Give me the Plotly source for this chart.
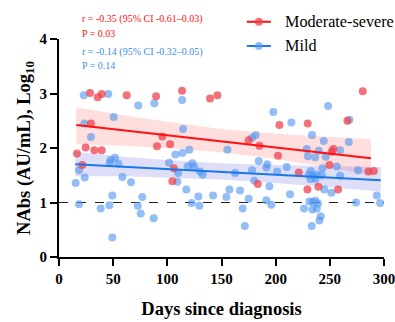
import plotly.graph_objects as go

# ---- data ----
mod_days = [28.6, 35.7, 39.4, 62.5, 89.6, 29.5, 24.6, 32.6, 39.4, 16.6, 21.5, 90.5,
            113.6, 139.4, 146.2, 95.4, 102.5, 106.0, 104.6, 175.1, 185.0, 183.5,
            280.4, 203.4, 229.6, 266.2, 202.2, 253.3, 251.8, 249.6, 221.3, 239.4,
            257.6, 229.3, 285.6, 290.6]
mod_vals = [3.01, 2.93, 2.99, 2.97, 2.95, 2.45, 2.01, 1.96, 1.96, 1.90, 1.69, 2.03,
            3.05, 2.91, 2.97, 2.21, 2.07, 1.63, 1.39, 2.14, 2.04, 1.34,
            3.04, 2.42, 2.45, 2.50, 1.86, 1.98, 1.93, 1.69, 1.55, 1.29,
            1.24, 1.24, 1.57, 1.58]

mild_days = [22.8, 45.5, 73.2, 88.0, 50.5, 23.4, 29.5, 47.7, 51.7, 54.8, 46.8, 18.5,
             23.7, 15.4, 58.5, 66.5, 49.2, 76.9, 18.5, 46.5, 38.5, 72.7, 75.4, 87.4, 49.2,
             113.6, 197.9, 114.5, 155.4, 178.2, 181.6, 107.4, 113.9, 120.3, 101.6, 118.8,
             123.1, 124.9, 109.9, 130.2, 132.7, 162.5, 178.2, 184.4, 192.3, 191.4, 180.3,
             109.2, 117.5, 194.2, 157.3, 167.1, 142.2, 128.6, 154.5, 175.1, 122.5, 129.5,
             169.6, 191.4, 171.5,
             248.4, 214.5, 268.1, 233.6, 244.4, 267.5, 228.7, 239.8, 259.5, 229.6, 236.4,
             246.2, 256.4, 243.1, 232.4, 210.2, 201.3, 276.1, 230.6, 234.8, 237.9, 242.6,
             259.5, 232.0, 236.7, 244.9, 251.4, 213.3, 293.3, 196.0, 231.1, 234.2, 236.7,
             239.0, 226.2, 233.9, 238.0, 241.6, 240.4, 233.3, 274.2, 296.4]
mild_vals = [2.97, 2.99, 2.78, 2.82, 2.57, 2.45, 2.20, 1.78, 1.82, 1.71, 1.73, 1.59,
             1.46, 1.36, 1.47, 1.37, 1.13, 1.10, 0.97, 0.95, 0.89, 0.94, 0.80, 0.71, 0.36,
             2.88, 2.66, 2.35, 1.97, 2.19, 2.24, 1.88, 1.91, 1.97, 1.73, 1.66,
             1.72, 1.65, 1.54, 1.57, 1.51, 1.54, 1.59, 1.76, 1.70, 1.64, 1.40,
             1.38, 1.24, 1.30, 1.24, 1.22, 1.13, 1.11, 1.10, 1.07, 0.99, 0.94,
             0.89, 1.04, 0.57,
             2.77, 2.47, 2.52, 2.24, 2.13, 2.11, 1.98, 1.95, 1.96, 1.85, 1.83,
             1.84, 1.66, 1.63, 1.58, 1.65, 1.57, 1.59, 1.51, 1.49, 1.51, 1.50,
             1.49, 1.43, 1.43, 1.24, 1.18, 1.15, 1.13, 0.96, 1.02, 1.01, 1.03,
             0.98, 0.89, 0.87, 0.89, 0.75, 0.67, 0.57, 1.00, 0.99]

# regression fits and 95% CI bands
mod_fit_days = [16, 60, 100, 150, 200, 250, 288]
mod_fit = [2.42, 2.32, 2.23, 2.12, 2.01, 1.90, 1.81]
mod_upper = [2.75, 2.60, 2.48, 2.35, 2.26, 2.20, 2.16]
mod_lower = [2.07, 2.04, 2.00, 1.92, 1.80, 1.64, 1.50]

mild_fit_days = [15, 60, 100, 150, 200, 250, 297]
mild_fit = [1.70, 1.654, 1.61, 1.56, 1.51, 1.46, 1.41]
mild_upper = [1.93, 1.84, 1.78, 1.72, 1.69, 1.67, 1.65]
mild_lower = [1.48, 1.48, 1.46, 1.42, 1.36, 1.28, 1.20]

x_ticks = [0, 50, 100, 150, 200, 250, 300]
y_ticks = [0, 1, 2, 3, 4]
threshold = 1
series_names = ["Moderate-severe", "Mild"]
stat_texts = ["r = -0.35 (95% CI -0.61\u20130.03)", "P = 0.03",
              "r = -0.14 (95% CI -0.32\u20130.05)", "P = 0.14"]

RED = "#ff1010"
RED_PT = "rgba(238,60,70,0.72)"
BLUE = "#1a78e6"
BLUE_PT = "rgba(80,150,240,0.62)"
BLUE_TXT = "#3a8ee8"
SERIF = "Liberation Serif"

fig = go.Figure()

# CI bands
fig.add_trace(go.Scatter(x=mod_fit_days + mod_fit_days[::-1],
                         y=mod_upper + mod_lower[::-1], fill="toself",
                         fillcolor="rgba(255,60,60,0.17)", line=dict(width=0),
                         mode="lines", hoverinfo="skip", showlegend=False))
fig.add_trace(go.Scatter(x=mild_fit_days + mild_fit_days[::-1],
                         y=mild_upper + mild_lower[::-1], fill="toself",
                         fillcolor="rgba(90,90,225,0.20)", line=dict(width=0),
                         mode="lines", hoverinfo="skip", showlegend=False))

# points
fig.add_trace(go.Scatter(x=mild_days, y=mild_vals, mode="markers",
                         marker=dict(size=8, color=BLUE_PT), showlegend=False))
fig.add_trace(go.Scatter(x=mod_days, y=mod_vals, mode="markers",
                         marker=dict(size=8, color=RED_PT), showlegend=False))

# fit lines
fig.add_trace(go.Scatter(x=mod_fit_days, y=mod_fit, mode="lines",
                         line=dict(color=RED, width=2), showlegend=False))
fig.add_trace(go.Scatter(x=mild_fit_days, y=mild_fit, mode="lines",
                         line=dict(color=BLUE, width=2), showlegend=False))

fig.add_shape(type="line", xref="paper", x0=0, x1=1, yref="y", y0=threshold, y1=threshold,
              line=dict(color="#222", width=1, dash="dash"), layer="below")

# manual legend (paper coordinates)
leg_rows = [(1.079, RED, RED_PT), (0.968, BLUE, BLUE_PT)]
for name, (ly, lc, pc) in zip(series_names, leg_rows):
    fig.add_shape(type="line", xref="paper", yref="paper", x0=0.578, x1=0.652, y0=ly, y1=ly,
                  line=dict(color=lc, width=2))
    fig.add_shape(type="circle", xref="paper", yref="paper",
                  x0=0.615 - 0.0123, x1=0.615 + 0.0123, y0=ly - 0.0183, y1=ly + 0.0183,
                  fillcolor=pc, line=dict(width=0))
    fig.add_annotation(x=0.689, y=ly, xref="paper", yref="paper", text=name, showarrow=False,
                       xanchor="left", yanchor="middle",
                       font=dict(family=SERIF, size=16.2, color="black"))

# statistics text
stat_y = [1.092, 1.023, 0.942, 0.878]
stat_c = [RED, RED, BLUE_TXT, BLUE_TXT]
for t, sy, sc in zip(stat_texts, stat_y, stat_c):
    fig.add_annotation(x=0.0646, y=sy, xref="paper", yref="paper", text=t, showarrow=False,
                       xanchor="left", yanchor="middle",
                       font=dict(family=SERIF, size=10, color=sc))

axis_common = dict(showline=True, linecolor="black", linewidth=2, ticks="outside",
                   ticklen=7, tickwidth=2, tickcolor="black", showgrid=False, zeroline=False,
                   automargin=False, ticklabeloverflow="allow",
                   tickfont=dict(family=SERIF, size=15, color="black", weight="bold"))

fig.update_layout(
    width=395, height=322,
    margin=dict(l=59, r=11, t=39, b=65),
    plot_bgcolor="white", paper_bgcolor="white",
    xaxis=dict(range=[0, 300], tickvals=x_ticks,
               title=dict(text="Days since diagnosis", standoff=16,
                          font=dict(family=SERIF, size=18.5, color="black", weight="bold")),
               **axis_common),
    yaxis=dict(range=[0, 4], tickvals=y_ticks,
               title=dict(text="NAbs (AU/mL), Log<sub>10</sub>", standoff=4,
                          font=dict(family=SERIF, size=18.5, color="black", weight="bold")),
               **axis_common),
    showlegend=False,
)

fig.write_html("out.html")
